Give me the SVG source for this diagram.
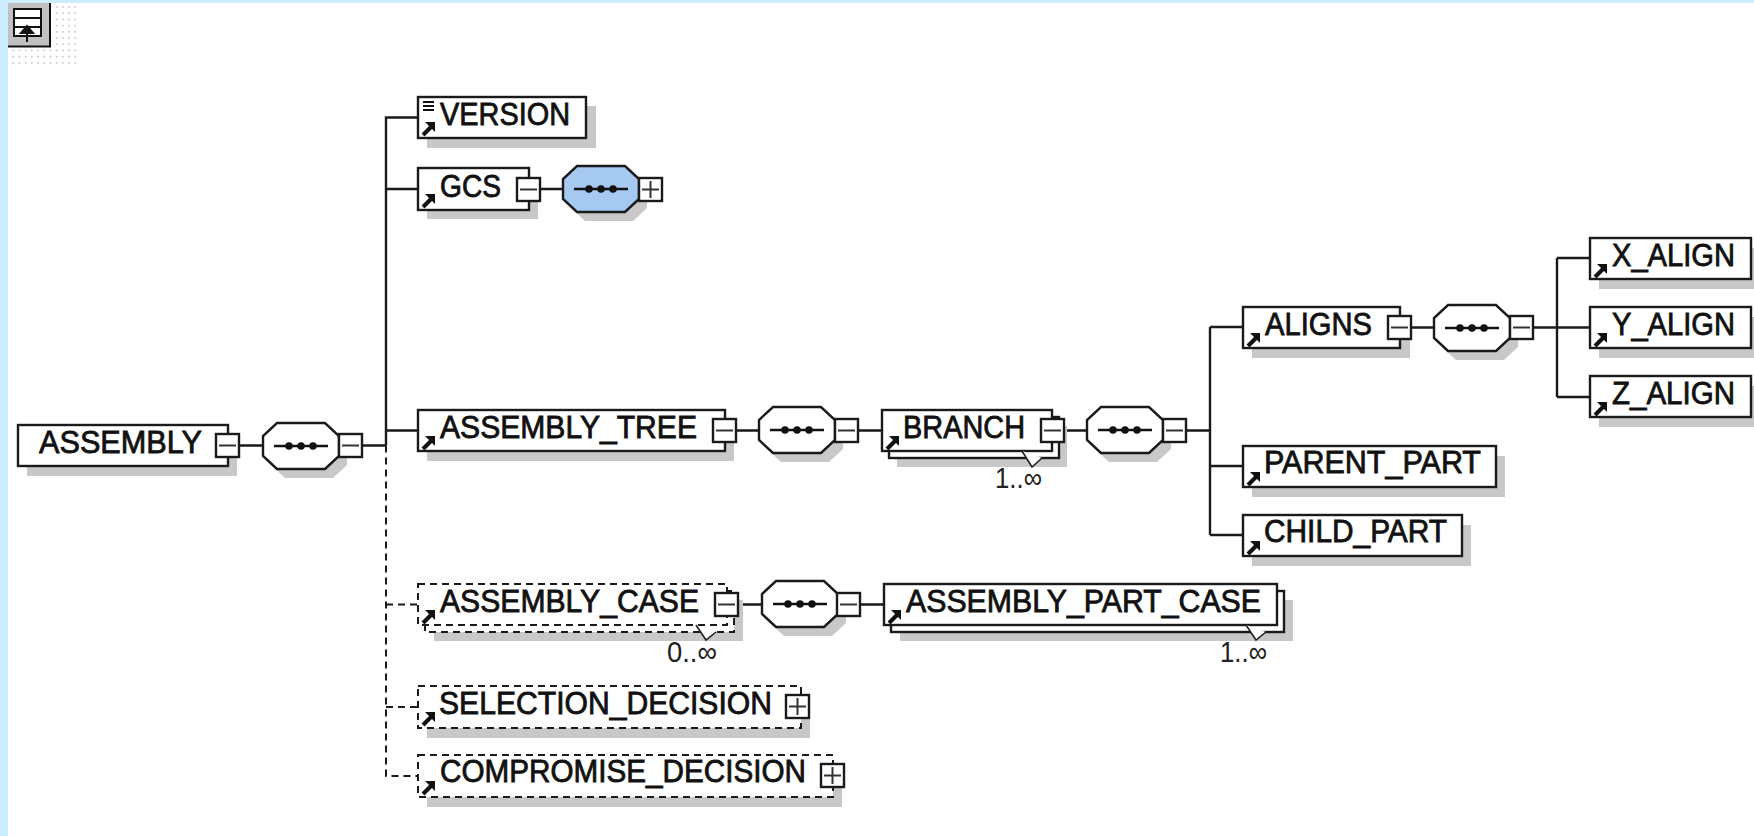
<svg xmlns="http://www.w3.org/2000/svg" xmlns:xlink="http://www.w3.org/1999/xlink" width="1754" height="836" viewBox="0 0 1754 836">
<style>
.b{fill:#fff;stroke:#1a1a1a;stroke-width:2.4}
.d{fill:#fff;stroke:#1a1a1a;stroke-width:2;stroke-dasharray:7 5}
.s{fill:#c8c8c8}
.t{font-family:"Liberation Sans",Arial,sans-serif;font-size:31px;fill:#111;stroke:#111;stroke-width:.8}
.n{font-family:"Liberation Sans",Arial,sans-serif;font-size:30px;fill:#222}
.c{fill:none;stroke:#1a1a1a;stroke-width:2.4}
.cd{fill:none;stroke:#1a1a1a;stroke-width:2;stroke-dasharray:7 5}
.o{fill:#fff;stroke:#1a1a1a;stroke-width:2.4}
.ob{fill:#a6c9f2;stroke:#1a1a1a;stroke-width:2.4}
.os{fill:#c8c8c8;stroke:none}
.dots{fill:url(#dot)}
</style>
<defs>
<pattern id="dot" width="6.2" height="6.2" patternUnits="userSpaceOnUse"><rect width="1.6" height="1.6" fill="#c4c4c4"/></pattern>
<path id="op" d="M14,0H62L76,13V33L62,46H14L0,33V13Z"/>
<g id="seq" fill="#111"><path d="M11,23H65" stroke="#111" stroke-width="2.4" fill="none"/><circle cx="26" cy="23" r="3.800"/><circle cx="38" cy="23" r="3.800"/><circle cx="50" cy="23" r="3.800"/></g>
<g id="arrow"><path d="M1,13L9,5" stroke="#111" stroke-width="4" fill="none"/><path d="M3,0H13V10Z" fill="#111"/></g>
<g id="mi"><rect class="b" width="23" height="23"/><path d="M3,11.5H20" stroke="#333" stroke-width="2"/></g>
<g id="pl"><rect class="b" width="23" height="23"/><path d="M3,11.5H20M11.5,3V20" stroke="#333" stroke-width="2"/></g>
</defs>
<rect width="1754" height="836" fill="#fff"/>
<rect width="1754" height="3" fill="#cceeff"/>
<rect width="8" height="836" fill="#cceeff"/>
<g id="icon">
<rect class="dots" x="12" y="5" width="66" height="62"/>
<rect x="8" y="3" width="42" height="44" fill="#c0c0c0"/>
<path d="M8,46.500H50V3" fill="none" stroke="#111" stroke-width="2"/>
<rect x="14" y="9" width="27" height="27" fill="#fff" stroke="#111" stroke-width="2"/>
<path d="M14,18H41M14,27H41" stroke="#111" stroke-width="2"/>
<path d="M27,42V27M21,33L27,26L33,33Z" stroke="#111" stroke-width="2" fill="#111"/>
</g>
<g id="connectors">
<path class="c" d="M239,445.500H262M361,445.500H386M386,445.500V117.500H418M386,189H418M386,430.500H418"/>
<path class="cd" d="M386,445.500V776H418M386,604.500H418M386,707H418"/>
<path class="c" d="M540,189H563M736,430.500H759M858,430.500H882M1063,430.500H1087M1186,430.500H1210M1210,327V535M1210,327H1243M1210,466H1243M1210,535H1243M1411,327.500H1434M1533,327.500H1590M1557,258V397M1557,258H1590M1557,397H1590M738,604.500H762M860,604.500H884"/>
</g>
<g id="n-assembly"><rect class="s" x="27" y="434" width="210" height="42"/><rect class="b" x="18" y="425" width="210" height="41"/><text class="t" x="39" y="453" textLength="163" lengthAdjust="spacingAndGlyphs">ASSEMBLY</text><use href="#mi" x="216" y="434"/></g>
<g id="seq-1"><use href="#op" class="os" x="271" y="432"/><use href="#op" class="o" x="263" y="423"/><use href="#seq" x="263" y="423"/><use href="#mi" x="339" y="434"/></g>
<g id="n-version"><rect class="s" x="427" y="106" width="169" height="42"/><rect class="b" x="418" y="97" width="168" height="41"/><path d="M423,102H434M423,106H434M423,110H434" stroke="#111" stroke-width="1.800"/><use href="#arrow" x="422" y="122"/><text class="t" x="440" y="125" textLength="130" lengthAdjust="spacingAndGlyphs">VERSION</text></g>
<g id="n-gcs"><rect class="s" x="427" y="178" width="111" height="41"/><rect class="b" x="418" y="168" width="111" height="42"/><use href="#arrow" x="422" y="194"/><text class="t" x="440" y="197" textLength="61" lengthAdjust="spacingAndGlyphs">GCS</text><use href="#mi" x="517" y="178"/></g>
<g id="seq-gcs"><use href="#op" class="os" x="571" y="175"/><use href="#op" class="ob" x="563" y="166"/><use href="#seq" x="563" y="166"/><use href="#pl" x="639" y="178"/></g>
<g id="n-assembly-tree"><rect class="s" x="427" y="420" width="307" height="41"/><rect class="b" x="418" y="410" width="307" height="41"/><use href="#arrow" x="422" y="436"/><text class="t" x="440" y="438" textLength="257" lengthAdjust="spacingAndGlyphs">ASSEMBLY_TREE</text><use href="#mi" x="713" y="419"/></g>
<g id="seq-tree"><use href="#op" class="os" x="767" y="416"/><use href="#op" class="o" x="759" y="407"/><use href="#seq" x="759" y="407"/><use href="#mi" x="835" y="419"/></g>
<g id="n-branch"><rect class="s" x="897" y="426" width="170" height="41"/><rect class="b" x="889" y="417" width="170" height="41"/><rect class="b" x="882" y="410" width="170" height="41"/><use href="#arrow" x="886" y="436"/><text class="t" x="903" y="438" textLength="122" lengthAdjust="spacingAndGlyphs">BRANCH</text><use href="#mi" x="1041" y="419"/><path d="M1022,451L1032,467L1042,458" fill="#fff" stroke="#222" stroke-width="1.600"/><text class="n" x="995" y="488" textLength="47" lengthAdjust="spacingAndGlyphs">1..∞</text></g>
<g id="seq-branch"><use href="#op" class="os" x="1095" y="416"/><use href="#op" class="o" x="1087" y="407"/><use href="#seq" x="1087" y="407"/><use href="#mi" x="1163" y="419"/></g>
<g id="n-aligns"><rect class="s" x="1252" y="317" width="158" height="41"/><rect class="b" x="1243" y="307" width="157" height="41"/><use href="#arrow" x="1247" y="333"/><text class="t" x="1265" y="335" textLength="107" lengthAdjust="spacingAndGlyphs">ALIGNS</text><use href="#mi" x="1388" y="316"/></g>
<g id="seq-aligns"><use href="#op" class="os" x="1442" y="314"/><use href="#op" class="o" x="1434" y="305"/><use href="#seq" x="1434" y="305"/><use href="#mi" x="1510" y="316"/></g>
<g id="n-x-align"><rect class="s" x="1599" y="248" width="155" height="41"/><rect class="b" x="1590" y="238" width="161" height="41"/><use href="#arrow" x="1594" y="264"/><text class="t" x="1612" y="266" textLength="123" lengthAdjust="spacingAndGlyphs">X_ALIGN</text></g>
<g id="n-y-align"><rect class="s" x="1599" y="317" width="155" height="41"/><rect class="b" x="1590" y="307" width="161" height="41"/><use href="#arrow" x="1594" y="333"/><text class="t" x="1612" y="335" textLength="123" lengthAdjust="spacingAndGlyphs">Y_ALIGN</text></g>
<g id="n-z-align"><rect class="s" x="1599" y="386" width="155" height="41"/><rect class="b" x="1590" y="376" width="161" height="41"/><use href="#arrow" x="1594" y="402"/><text class="t" x="1612" y="404" textLength="123" lengthAdjust="spacingAndGlyphs">Z_ALIGN</text></g>
<g id="n-parent-part"><rect class="s" x="1252" y="456" width="253" height="41"/><rect class="b" x="1243" y="446" width="253" height="41"/><use href="#arrow" x="1247" y="472"/><text class="t" x="1264" y="473" textLength="217" lengthAdjust="spacingAndGlyphs">PARENT_PART</text></g>
<g id="n-child-part"><rect class="s" x="1252" y="525" width="219" height="41"/><rect class="b" x="1243" y="515" width="219" height="41"/><use href="#arrow" x="1247" y="541"/><text class="t" x="1264" y="542" textLength="183" lengthAdjust="spacingAndGlyphs">CHILD_PART</text></g>
<g id="n-assembly-case"><rect class="s" x="434" y="600" width="309" height="41"/><rect class="d" x="425" y="591" width="309" height="41"/><rect class="d" x="418" y="584" width="309" height="41"/><use href="#arrow" x="422" y="610"/><text class="t" x="440" y="612" textLength="259" lengthAdjust="spacingAndGlyphs">ASSEMBLY_CASE</text><use href="#mi" x="715" y="593"/><path d="M696,625L706,640L716,632" fill="#fff" stroke="#222" stroke-width="1.600"/><text class="n" x="667" y="662" textLength="50" lengthAdjust="spacingAndGlyphs">0..∞</text></g>
<g id="seq-case"><use href="#op" class="os" x="770" y="590"/><use href="#op" class="o" x="762" y="581"/><use href="#seq" x="762" y="581"/><use href="#mi" x="837" y="593"/></g>
<g id="n-assembly-part-case"><rect class="s" x="900" y="600" width="393" height="41"/><rect class="b" x="891" y="591" width="393" height="41"/><rect class="b" x="884" y="584" width="393" height="41"/><use href="#arrow" x="888" y="610"/><text class="t" x="906" y="612" textLength="355" lengthAdjust="spacingAndGlyphs">ASSEMBLY_PART_CASE</text><path d="M1246,625L1256,640L1266,632" fill="#fff" stroke="#222" stroke-width="1.600"/><text class="n" x="1220" y="662" textLength="47" lengthAdjust="spacingAndGlyphs">1..∞</text></g>
<g id="n-selection-decision"><rect class="s" x="427" y="696" width="383" height="42"/><rect class="d" x="418" y="686" width="383" height="42"/><use href="#arrow" x="422" y="712"/><text class="t" x="439" y="714" textLength="333" lengthAdjust="spacingAndGlyphs">SELECTION_DECISION</text><use href="#pl" x="786" y="695"/></g>
<g id="n-compromise-decision"><rect class="s" x="427" y="765" width="415" height="42"/><rect class="d" x="418" y="755" width="415" height="42"/><use href="#arrow" x="422" y="781"/><text class="t" x="440" y="782" textLength="366" lengthAdjust="spacingAndGlyphs">COMPROMISE_DECISION</text><use href="#pl" x="821" y="764"/></g>
</svg>
